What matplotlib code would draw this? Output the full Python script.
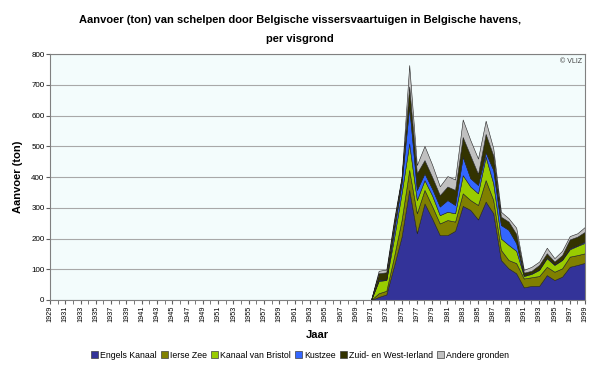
import numpy as np
import matplotlib
matplotlib.use("Agg")
import matplotlib.pyplot as plt
from matplotlib.ticker import MultipleLocator

plt.rcParams['font.family'] = ['Liberation Sans', 'DejaVu Sans']

# jaren 1929-1999, aanvoer pas vanaf 1972
years = np.arange(1929, 2000)
n_zero = 1971 - 1929 + 1  # 1929 t/m 1971 = 0

engels_kanaal = [10, 18, 110, 206, 358, 217, 314, 265, 211, 211, 225, 306, 293, 262,
                 320, 282, 130, 103, 87, 41, 46, 46, 81, 65, 76, 108, 114, 121]
ierse_zee = [12, 12, 30, 54, 65, 65, 44, 40, 38, 49, 30, 41, 32, 47,
             70, 43, 33, 27, 33, 29, 28, 32, 27, 27, 27, 33, 32, 31]
kanaal_bristol = [40, 35, 60, 87, 86, 43, 32, 35, 27, 27, 27, 59, 44, 38,
                  76, 54, 37, 49, 40, 8, 11, 20, 28, 22, 27, 24, 30, 34]
kustzee = [3, 2, 25, 33, 120, 33, 22, 22, 28, 38, 27, 60, 27, 27,
           14, 44, 44, 49, 25, 2, 2, 2, 3, 2, 2, 3, 2, 4]
zuid_west_ierland = [22, 23, 25, 16, 65, 54, 43, 38, 37, 44, 49, 64, 74, 36,
                     60, 47, 27, 27, 30, 9, 8, 14, 13, 9, 14, 29, 28, 32]
andere_gronden = [8, 9, 10, 5, 70, 27, 46, 40, 29, 34, 34, 57, 50, 50,
                  43, 23, 16, 11, 20, 9, 13, 11, 18, 11, 14, 11, 11, 16]

labels = ['Engels Kanaal', 'Ierse Zee', 'Kanaal van Bristol', 'Kustzee',
          'Zuid- en West-Ierland', 'Andere gronden']
colors = ['#333399', '#808000', '#99CC00', '#3366FF', '#333300', '#C0C0C0']

series = [engels_kanaal, ierse_zee, kanaal_bristol, kustzee,
          zuid_west_ierland, andere_gronden]
data = [np.concatenate([np.zeros(n_zero), np.array(s, dtype=float)]) for s in series]

fig = plt.figure(figsize=(6.0, 3.68), dpi=100)
ax = fig.add_axes([50 / 600, 68 / 368, 535 / 600, 246 / 368])
ax.set_facecolor('#F3FCFC')

polys = ax.stackplot(years, *data, colors=colors, labels=labels,
                     edgecolor='#222222', linewidth=0.4)

ax.set_xlim(1929, 1999)
ax.set_ylim(0, 800)
ax.yaxis.set_major_locator(MultipleLocator(100))
ax.set_xticks(np.arange(1929, 2000, 2))
ax.set_xticks(years, minor=True)
ax.tick_params(axis='x', which='both', labelsize=5.2, rotation=90, length=3,
               color='#606060', pad=1)
ax.tick_params(axis='y', labelsize=5.8, length=3, color='#606060', pad=1)
ax.grid(axis='y', color='#A8A8A8', linewidth=0.8)
ax.set_axisbelow(True)
for side in ['top', 'right', 'left', 'bottom']:
    ax.spines[side].set_color('#808080')
    ax.spines[side].set_linewidth(0.8)

ax.set_ylabel('Aanvoer (ton)', fontsize=8, fontweight='bold', labelpad=6)
ax.set_xlabel('Jaar', fontsize=8, fontweight='bold', labelpad=6)
ax.text(0.995, 0.985, '\u00a9 VLIZ', transform=ax.transAxes, ha='right', va='top',
        fontsize=5, color='#404040')

fig.text(0.5, 1 - 20 / 368, 'Aanvoer (ton) van schelpen door Belgische vissersvaartuigen in Belgische havens,',
         ha='center', va='center', fontsize=8, fontweight='bold')
fig.text(0.5, 1 - 39 / 368, 'per visgrond', ha='center', va='center',
         fontsize=8, fontweight='bold')

leg = fig.legend(handles=polys, labels=labels, loc='center', bbox_to_anchor=(0.5, 1 - 355 / 368),
                 ncol=6, fontsize=6.3, frameon=False, handlelength=0.8, handleheight=0.8,
                 handletextpad=0.2, columnspacing=0.5)
for h in leg.legend_handles:
    h.set_edgecolor('#404040')
    h.set_linewidth(0.5)

fig.savefig('out.png', dpi=100)
